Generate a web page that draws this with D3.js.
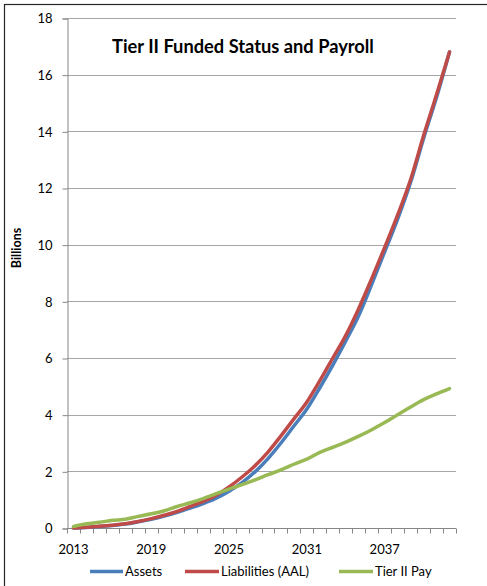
<!DOCTYPE html>
<html>
<head>
<meta charset="utf-8">
<script src="https://cdn.jsdelivr.net/npm/d3@7"></script>
<style>
  html, body { margin: 0; padding: 0; background: #fff; }
  svg { display: block; }
  text { font-family: Lato, "Open Sans", "Liberation Sans", sans-serif; fill: #000; }
</style>
</head>
<body>
<svg id="chart" width="487" height="586"></svg>
<script>
// Projection years, 2013 through 2042
const years = [2013, 2014, 2015, 2016, 2017, 2018, 2019, 2020, 2021, 2022,
               2023, 2024, 2025, 2026, 2027, 2028, 2029, 2030, 2031, 2032,
               2033, 2034, 2035, 2036, 2037, 2038, 2039, 2040, 2041, 2042];

// Values in billions
const assets = [0.00, 0.02, 0.05, 0.09, 0.14, 0.22, 0.31, 0.42, 0.55, 0.70,
                0.86, 1.05, 1.30, 1.60, 1.98, 2.45, 3.00, 3.60, 4.20, 4.95,
                5.75, 6.60, 7.50, 8.60, 9.75, 10.90, 12.20, 13.75, 15.20, 16.80];
const liabilities = [0.00, 0.03, 0.06, 0.10, 0.15, 0.23, 0.33, 0.45, 0.59, 0.76,
                     0.94, 1.16, 1.45, 1.80, 2.20, 2.68, 3.25, 3.85, 4.45, 5.20,
                     6.00, 6.80, 7.75, 8.80, 9.90, 11.05, 12.30, 13.85, 15.30, 16.80];
const tierIIPay = [0.05, 0.15, 0.20, 0.27, 0.31, 0.41, 0.50, 0.61, 0.76, 0.89,
                   1.04, 1.21, 1.37, 1.53, 1.70, 1.88, 2.05, 2.25, 2.43, 2.67,
                   2.85, 3.03, 3.24, 3.47, 3.72, 4.00, 4.27, 4.53, 4.73, 4.92];

const yTicks = [0, 2, 4, 6, 8, 10, 12, 14, 16, 18];
const xTickLabels = [2013, 2019, 2025, 2031, 2037];

const seriesNames = ["Assets", "Liabilities (AAL)", "Tier II Pay"];
const seriesColors = ["#4a7ebb", "#be4b48", "#98b954"];
const seriesValues = [assets, liabilities, tierIIPay];

const svg = d3.select("#chart");

// Chart-area frame
svg.append("rect")
  .attr("x", 4.5).attr("y", 4.5)
  .attr("width", 520).attr("height", 620)
  .attr("fill", "#fff")
  .attr("stroke", "#262626")
  .attr("stroke-width", 1.2);

const plot = { left: 67, right: 456, top: 18, bottom: 528 };

const x = d3.scaleBand().domain(years).range([plot.left, plot.right]).padding(0);
const y = d3.scaleLinear().domain([0, 18]).range([plot.bottom, plot.top]);
const cx = d => x(d) + x.bandwidth() / 2;

// Horizontal gridlines
svg.append("g")
  .selectAll("line")
  .data(yTicks.filter(t => t > 0))
  .join("line")
  .attr("x1", plot.left).attr("x2", plot.right)
  .attr("y1", d => Math.round(y(d)) + 0.5).attr("y2", d => Math.round(y(d)) + 0.5)
  .attr("stroke", "#a6a6a6").attr("stroke-width", 1);

// Y axis
const yAxis = svg.append("g")
  .attr("transform", `translate(${plot.left + 0.5},0.5)`)
  .call(d3.axisLeft(y).tickValues(yTicks).tickSize(5).tickPadding(10).tickFormat(d3.format("d")));
yAxis.select(".domain").attr("stroke", "#868686");
yAxis.selectAll(".tick line").attr("stroke", "#868686");
yAxis.selectAll(".tick text")
  .style("font-size", "13px")
  .attr("fill", "#000");

// X axis: a tick mark at each category boundary, labels every six years
const xAxisG = svg.append("g").attr("transform", `translate(0,${Math.round(y(0)) + 0.5})`);
xAxisG.append("line")
  .attr("x1", plot.left).attr("x2", plot.right)
  .attr("stroke", "#868686");
xAxisG.selectAll("line.tick")
  .data(years.concat([null]))
  .join("line")
  .attr("class", "tick")
  .attr("x1", (d, i) => Math.round(d === null ? plot.right : x(d)) + 0.5)
  .attr("x2", (d, i) => Math.round(d === null ? plot.right : x(d)) + 0.5)
  .attr("y1", 0).attr("y2", 5)
  .attr("stroke", "#868686");
xAxisG.selectAll("text")
  .data(xTickLabels)
  .join("text")
  .attr("x", d => cx(d))
  .attr("y", 25)
  .attr("text-anchor", "middle")
  .style("font-size", "13px")
  .text(d => d);

// Y axis title
svg.append("text")
  .attr("transform", "translate(20.5,248) rotate(-90)")
  .attr("text-anchor", "middle")
  .style("font-size", "12.5px")
  .style("font-weight", "bold")
  .text("Billions");

// Series lines
const line = d3.line()
  .x((d, i) => cx(years[i]))
  .y(d => y(d))
  .curve(d3.curveMonotoneX);

svg.append("g")
  .selectAll("path")
  .data(seriesValues)
  .join("path")
  .attr("d", d => line(d))
  .attr("fill", "none")
  .attr("stroke", (d, i) => seriesColors[i])
  .attr("stroke-width", 3.5)
  .attr("stroke-linejoin", "round")
  .attr("stroke-linecap", "round");

// Title, sized to span its box
const title = svg.append("text")
  .attr("x", 112)
  .attr("y", 52.5)
  .style("font-weight", "bold")
  .style("font-size", "18px")
  .text("Tier II Funded Status and Payroll");
const titleWidth = 262;
const measured = title.node().getComputedTextLength();
title.style("font-size", (18 * titleWidth / measured).toFixed(2) + "px");

// Legend
const legendItems = [
  { name: seriesNames[0], color: seriesColors[0], x0: 90, x1: 123, tx: 125 },
  { name: seriesNames[1], color: seriesColors[1], x0: 185, x1: 219, tx: 221 },
  { name: seriesNames[2], color: seriesColors[2], x0: 339, x1: 373, tx: 375 }
];
const legend = svg.append("g");
legend.selectAll("line")
  .data(legendItems)
  .join("line")
  .attr("x1", d => d.x0).attr("x2", d => d.x1)
  .attr("y1", 571.5).attr("y2", 571.5)
  .attr("stroke", d => d.color)
  .attr("stroke-width", 3.5);
legend.selectAll("text")
  .data(legendItems)
  .join("text")
  .attr("x", d => d.tx)
  .attr("y", 576)
  .style("font-size", "13px")
  .text(d => d.name);
</script>
</body>
</html>
